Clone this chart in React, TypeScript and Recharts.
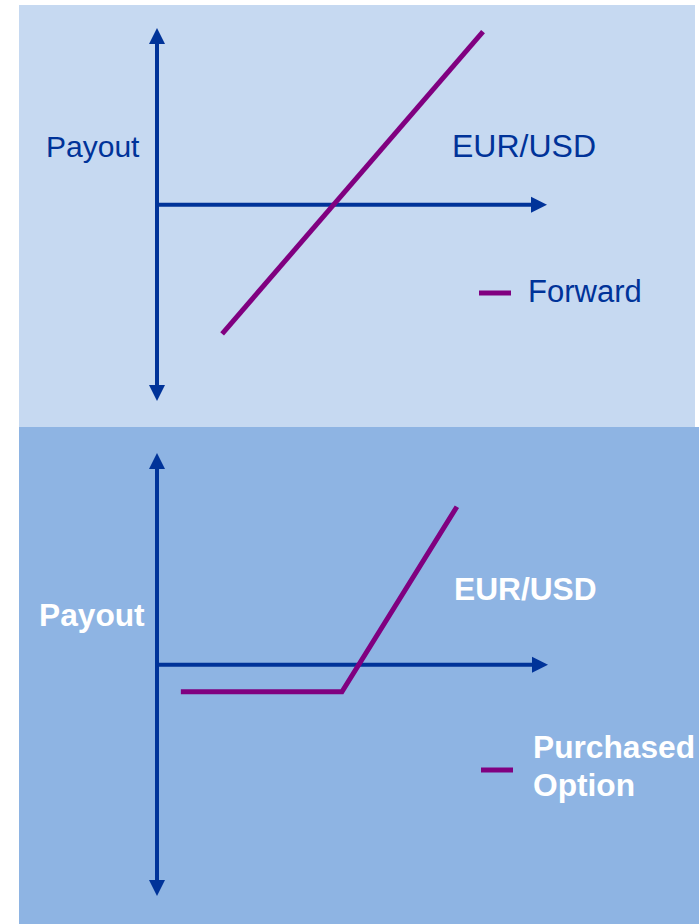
import React from 'react';
import { LineChart, Line, XAxis, YAxis, ReferenceLine, Customized } from 'recharts';

// ---- data ----
const xDomain: [number, number] = [0, 10];
const topYDomain: [number, number] = [-5, 4.5];
const bottomYDomain: [number, number] = [-5.9, 5.4];

const forwardX = [1.67, 8.36];
const forwardY = [-3.29, 4.41];

const optionX = [0.61, 4.73, 7.67];
const optionY = [-0.69, -0.69, 4.03];

const axisLabelY = 'Payout';
const axisLabelX = 'EUR/USD';
const topSeriesName = 'Forward';
const bottomSeriesName = ['Purchased', 'Option'];

const forwardData = forwardX.map((x, i) => ({ x, y: forwardY[i] }));
const optionData = optionX.map((x, i) => ({ x, y: optionY[i] }));

// ---- styles ----
const AXIS = '#003399';
const PURPLE = '#800080';
const FONT = '"Liberation Sans", Arial, sans-serif';

const arrowShape = (arrowStart: boolean, arrowEnd: boolean) => (props: any) => {
  const { x1, y1, x2, y2 } = props;
  if ([x1, y1, x2, y2].some((v) => typeof v !== 'number' || isNaN(v))) return <g />;
  const dx = x2 - x1;
  const dy = y2 - y1;
  const len = Math.hypot(dx, dy) || 1;
  const ux = dx / len;
  const uy = dy / len;
  const L = 16;
  const W = 8;
  const px = -uy;
  const py = ux;
  const sx = arrowStart ? x1 + ux * (L - 2) : x1;
  const sy = arrowStart ? y1 + uy * (L - 2) : y1;
  const ex = arrowEnd ? x2 - ux * (L - 2) : x2;
  const ey = arrowEnd ? y2 - uy * (L - 2) : y2;
  const head = (tx: number, ty: number, dirx: number, diry: number) => {
    const bx = tx - dirx * L;
    const by = ty - diry * L;
    return `${tx},${ty} ${bx + px * W},${by + py * W} ${bx - px * W},${by - py * W}`;
  };
  return (
    <g>
      <line x1={sx} y1={sy} x2={ex} y2={ey} stroke={AXIS} strokeWidth={4} />
      {arrowStart && <polygon points={head(x1, y1, -ux, -uy)} fill={AXIS} />}
      {arrowEnd && <polygon points={head(x2, y2, ux, uy)} fill={AXIS} />}
    </g>
  );
};

const TopLabels = () => (
  <g fontFamily={FONT} fill={AXIS}>
    <text x={27} y={152} fontSize={30}>{axisLabelY}</text>
    <text x={433} y={152} fontSize={32}>{axisLabelX}</text>
    <line x1={460} y1={288} x2={492} y2={288} stroke={PURPLE} strokeWidth={5} />
    <text x={509} y={297} fontSize={31}>{topSeriesName}</text>
  </g>
);

const BottomLabels = () => (
  <g fontFamily={FONT} fontSize={31.7} fontWeight="bold" fill="#ffffff">
    <text x={20} y={199}>{axisLabelY}</text>
    <text x={435} y={173}>{axisLabelX}</text>
    <line x1={462} y1={343} x2={494} y2={343} stroke={PURPLE} strokeWidth={5} />
    <text x={514} y={331}>{bottomSeriesName[0]}</text>
    <text x={514} y={369}>{bottomSeriesName[1]}</text>
  </g>
);

export default function App() {
  return (
    <div style={{ position: 'absolute', left: 0, top: 0, width: 699, height: 924, background: '#ffffff', overflow: 'hidden' }}>
      <div style={{ position: 'absolute', left: 19, top: 5, width: 676, height: 422, background: '#c6d9f1' }}>
        <LineChart width={676} height={422} margin={{ top: 23, right: 148, bottom: 26, left: 138 }}>
          <XAxis type="number" dataKey="x" domain={xDomain} hide />
          <YAxis type="number" dataKey="y" domain={topYDomain} hide />
          <ReferenceLine
            segment={[{ x: 0, y: topYDomain[0] }, { x: 0, y: topYDomain[1] }]}
            ifOverflow="visible"
            shape={arrowShape(true, true)}
          />
          <ReferenceLine
            segment={[{ x: 0, y: 0 }, { x: xDomain[1], y: 0 }]}
            ifOverflow="visible"
            shape={arrowShape(false, true)}
          />
          <Line
            data={forwardData}
            dataKey="y"
            name={topSeriesName}
            type="linear"
            stroke={PURPLE}
            strokeWidth={5}
            dot={false}
            activeDot={false}
            isAnimationActive={false}
          />
          <Customized component={<TopLabels />} />
        </LineChart>
      </div>
      <div style={{ position: 'absolute', left: 19, top: 427, width: 680, height: 497, background: '#8eb4e3' }}>
        <LineChart width={680} height={497} margin={{ top: 26, right: 151, bottom: 28, left: 138 }}>
          <XAxis type="number" dataKey="x" domain={xDomain} hide />
          <YAxis type="number" dataKey="y" domain={bottomYDomain} hide />
          <ReferenceLine
            segment={[{ x: 0, y: bottomYDomain[0] }, { x: 0, y: bottomYDomain[1] }]}
            ifOverflow="visible"
            shape={arrowShape(true, true)}
          />
          <ReferenceLine
            segment={[{ x: 0, y: 0 }, { x: xDomain[1], y: 0 }]}
            ifOverflow="visible"
            shape={arrowShape(false, true)}
          />
          <Line
            data={optionData}
            dataKey="y"
            name={bottomSeriesName.join(' ')}
            type="linear"
            stroke={PURPLE}
            strokeWidth={5}
            dot={false}
            activeDot={false}
            isAnimationActive={false}
          />
          <Customized component={<BottomLabels />} />
        </LineChart>
      </div>
    </div>
  );
}
